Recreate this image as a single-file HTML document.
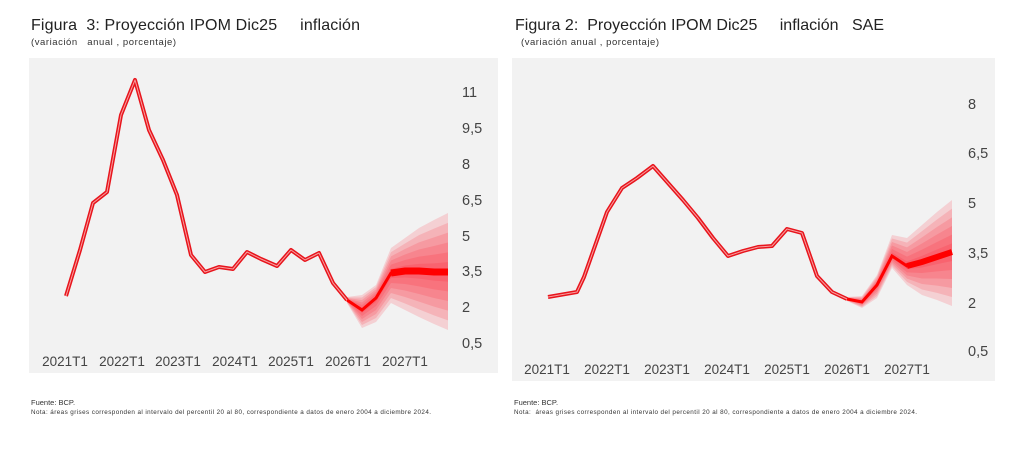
<!DOCTYPE html>
<html><head><meta charset="utf-8"><style>
body{margin:0;width:1024px;height:451px;background:#fff;overflow:hidden;font-family:"Liberation Sans",sans-serif}
svg{position:absolute;left:0;top:0}
text{white-space:pre}
</style></head><body>
<svg id="s" width="1024" height="451" viewBox="0 0 1024 451" font-family="Liberation Sans, sans-serif" xml:space="preserve">
<rect x="29" y="58" width="469" height="315" fill="#f2f2f2"/>
<rect x="512" y="58" width="483" height="323" fill="#f2f2f2"/>
<text x="31" y="30" font-size="16" fill="#222" textLength="329">Figura  3: Proyección IPOM Dic25     inflación</text>
<text x="31" y="45" font-size="9.5" fill="#333" textLength="145">(variación   anual , porcentaje)</text>
<text x="515" y="30" font-size="16" fill="#222" textLength="369">Figura 2:  Proyección IPOM Dic25     inflación   SAE</text>
<text x="521" y="45" font-size="9.5" fill="#333" textLength="138">(variación anual , porcentaje)</text>
<g font-size="14.5" fill="#444">
<text x="462" y="97">11</text><text x="462" y="133">9,5</text><text x="462" y="169">8</text><text x="462" y="205">6,5</text><text x="462" y="241">5</text><text x="462" y="276">3,5</text><text x="462" y="312">2</text><text x="462" y="348">0,5</text>
<text x="968" y="109">8</text><text x="968" y="158">6,5</text><text x="968" y="208">5</text><text x="968" y="258">3,5</text><text x="968" y="308">2</text><text x="968" y="356">0,5</text>
</g>
<g font-size="13.5" fill="#444" text-anchor="middle">
<text x="65" y="366">2021T1</text><text x="122" y="366">2022T1</text><text x="178" y="366">2023T1</text><text x="235" y="366">2024T1</text><text x="291" y="366">2025T1</text><text x="348" y="366">2026T1</text><text x="405" y="366">2027T1</text>
<text x="547" y="374">2021T1</text><text x="607" y="374">2022T1</text><text x="667" y="374">2023T1</text><text x="727" y="374">2024T1</text><text x="787" y="374">2025T1</text><text x="847" y="374">2026T1</text><text x="907" y="374">2027T1</text>
</g>
<text x="31" y="405" font-size="7.5" fill="#333">Fuente: BCP.</text>
<text x="31" y="414" font-size="6.3" fill="#333" textLength="400">Nota: áreas grises corresponden al intervalo del percentil 20 al 80, correspondiente a datos de enero 2004 a diciembre 2024.</text>
<text x="514" y="405" font-size="7.5" fill="#333">Fuente: BCP.</text>
<text x="514" y="414" font-size="6.3" fill="#333" textLength="403">Nota:  áreas grises corresponden al intervalo del percentil 20 al 80, correspondiente a datos de enero 2004 a diciembre 2024.</text>
<g id="g"></g>
</svg>
<script>
var g=document.getElementById('g'),NS='http://www.w3.org/2000/svg';
function el(t,a){var e=document.createElementNS(NS,t);for(var k in a)e.setAttribute(k,a[k]);g.appendChild(e);return e;}
function fan(xs,c,t,b){var n=6;for(var i=n;i>=1;i--){var f=i/n,p=[];for(var j=0;j<xs.length;j++)p.push(xs[j]+','+(c[j]+(t[j]-c[j])*f));for(var j=xs.length-1;j>=0;j--)p.push(xs[j]+','+(c[j]+(b[j]-c[j])*f));el('polygon',{points:p.join(' '),fill:'#ff1020','fill-opacity':0.15});}
var p=xs.map(function(x,j){return x+','+c[j]}).join(' ');el('polyline',{points:p,fill:'none',stroke:'#f00','stroke-width':3});}
function line(pts,extra){el('polyline',{points:pts,fill:'none',stroke:'#e8141c','stroke-width':4,'stroke-linejoin':'round'});el('polyline',{points:pts,fill:'none',stroke:'#f7a0a0','stroke-width':1,'stroke-linejoin':'round'});}
fan([347,362,376,391,405,419,434,448],[300,310,298,273,271,271,272,272],[297,295,285,248,238,228,220,213],[303,328,322,303,310,317,324,330]);
el('polyline',{points:'391,273 405,271 419,271 434,272 448,272',fill:'none',stroke:'#f00','stroke-width':7});
line('66,296 80,250 93,203 107,192 121,115 135,80 149,130 163,160 177,195 191,255 205,272 219,267 233,269 247,252 261,259 277,266 291,250 305,260 319,253 333,283 347,300');
fan([847,862,877,892,907,922,937,952],[299,302,285,256,266,262,257,252],[297,296,275,235,238,225,212,200],[301,308,298,268,285,295,300,306]);
el('polyline',{points:'907,266 922,262 937,257 952,252',fill:'none',stroke:'#f00','stroke-width':6});
line('548,297 577,292 584,277 607,212 622,188 637,178 653,166 668,183 683,200 698,218 713,238 728,256 743,251 758,247 772,246 787,229 802,233 817,276 832,292 847,299');
</script>
</body></html>
